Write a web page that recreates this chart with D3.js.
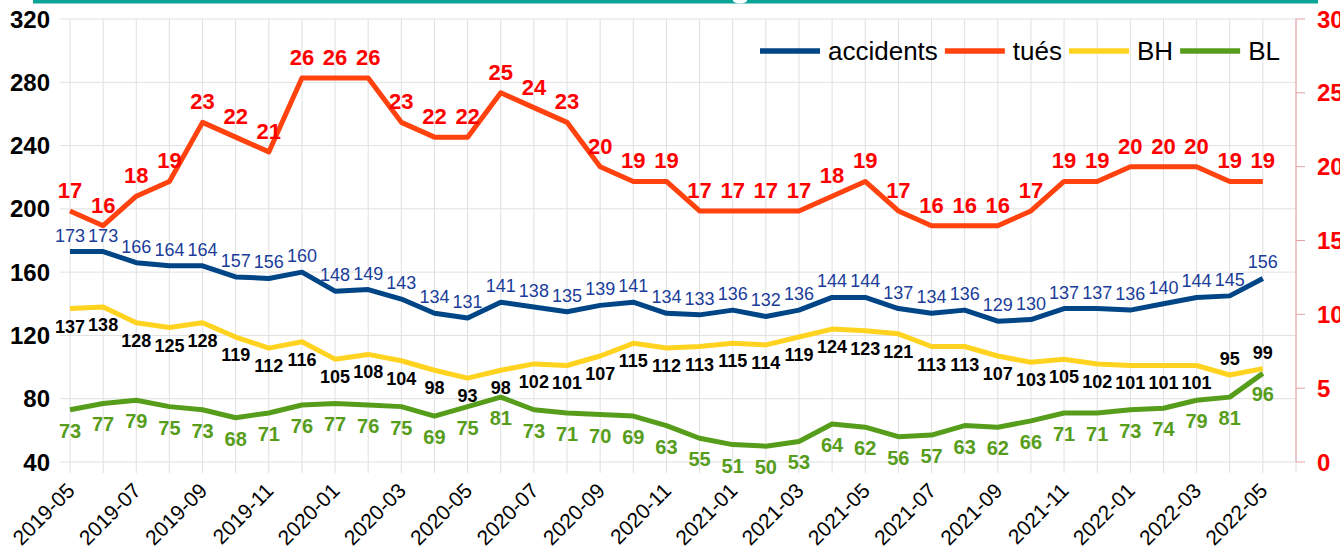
<!DOCTYPE html>
<html><head><meta charset="utf-8">
<script src="https://cdn.jsdelivr.net/npm/d3@7"></script>
<style>body{margin:0;background:#fff}svg{display:block}</style>
</head><body>
<svg id="c" width="1340" height="549"></svg>
<script>
const months = ["2019-05","2019-06","2019-07","2019-08","2019-09","2019-10","2019-11","2019-12","2020-01","2020-02","2020-03","2020-04","2020-05","2020-06","2020-07","2020-08","2020-09","2020-10","2020-11","2020-12","2021-01","2021-02","2021-03","2021-04","2021-05","2021-06","2021-07","2021-08","2021-09","2021-10","2021-11","2021-12","2022-01","2022-02","2022-03","2022-04","2022-05"];
const accidents = [173,173,166,164,164,157,156,160,148,149,143,134,131,141,138,135,139,141,134,133,136,132,136,144,144,137,134,136,129,130,137,137,136,140,144,145,156];
const tues = [17,16,18,19,23,22,21,26,26,26,23,22,22,25,24,23,20,19,19,17,17,17,17,18,19,17,16,16,16,17,19,19,20,20,20,19,19];
const BH = [137,138,128,125,128,119,112,116,105,108,104,98,93,98,102,101,107,115,112,113,115,114,119,124,123,121,113,113,107,103,105,102,101,101,101,95,99];
const BL = [73,77,79,75,73,68,71,76,77,76,75,69,75,81,73,71,70,69,63,55,51,50,53,64,62,56,57,63,62,66,71,71,73,74,79,81,96];
const leftTicks = [40,80,120,160,200,240,280,320];
const rightTicks = [0,5,10,15,20,25,30];
const seriesNames = ["accidents","tués","BH","BL"];
const colors = ["#004586","#ff420e","#ffd320","#579d1c"];

const svg = d3.select("#c");
const x = d3.scaleLinear().domain([0, months.length]).range([70, 1296]);
const yL = d3.scaleLinear().domain([40, 320]).range([462, 19]);
const yR = d3.scaleLinear().domain([0, 30]).range([462, 19]);
const F = "'Liberation Sans', Arial, sans-serif";

// top teal bar
svg.append("rect").attr("x",33).attr("y",0).attr("width",1285).attr("height",3.5).attr("fill","#0aa597");
svg.append("ellipse").attr("cx",740).attr("cy",0.5).attr("rx",7).attr("ry",3).attr("fill","#fff");

// vertical gridlines
const grid = svg.append("g");
d3.range(months.length + 1).forEach(i => {
  grid.append("line").attr("x1", x(i)).attr("x2", x(i)).attr("y1", yL(320)).attr("y2", 473)
    .attr("stroke", "#e0e0e0").attr("stroke-width", 1);
});
// horizontal gridlines
leftTicks.forEach(v => {
  grid.append("line").attr("x1", 60).attr("x2", x(months.length)).attr("y1", yL(v)).attr("y2", yL(v))
    .attr("stroke", "#e0e0e0").attr("stroke-width", 1);
});

// left axis labels
svg.append("g").selectAll("text").data(leftTicks).join("text")
  .attr("x", 50).attr("y", d => yL(d) + 8.5).attr("text-anchor", "end")
  .attr("font-family", F).attr("font-weight", "bold").attr("font-size", 24).attr("fill", "#000")
  .text(d => d);

// right axis
const xr = x(months.length);
svg.append("line").attr("x1", xr).attr("x2", xr).attr("y1", yR(30)).attr("y2", yR(0)).attr("stroke", "#e8a0a0").attr("stroke-width", 1);
rightTicks.forEach(v => {
  svg.append("line").attr("x1", xr).attr("x2", xr + 9).attr("y1", yR(v)).attr("y2", yR(v)).attr("stroke", "#e8a0a0");
});
svg.append("g").selectAll("text").data(rightTicks).join("text")
  .attr("x", xr + 21).attr("y", d => yR(d) + 8.5).attr("text-anchor", "start")
  .attr("font-family", F).attr("font-weight", "bold").attr("font-size", 24).attr("fill", "#ff0000")
  .text(d => d);

// x labels
svg.append("g").selectAll("text").data(months.filter((m, i) => i % 2 === 0)).join("text")
  .attr("transform", (d) => `translate(${x(months.indexOf(d)) + 6},${492}) rotate(-45)`)
  .attr("text-anchor", "end").attr("font-family", F).attr("font-size", 21).attr("fill", "#000")
  .text(d => d);

// lines
const lineL = d3.line().x((d, i) => x(i)).y(d => yL(d));
const lineR = d3.line().x((d, i) => x(i)).y(d => yR(d));
const draw = (data, gen, col) => svg.append("path").datum(data).attr("d", gen)
  .attr("fill", "none").attr("stroke", col).attr("stroke-width", 5).attr("stroke-linejoin", "round");
draw(BL, lineL, colors[3]);
draw(BH, lineL, colors[2]);
draw(accidents, lineL, colors[0]);
draw(tues, lineR, colors[1]);

// labels
const lab = (data, ys, dyFn, size, weight, col) => svg.append("g").selectAll("text").data(data).join("text")
  .attr("x", (d, i) => x(i)).attr("y", (d, i) => ys(d) + dyFn(i))
  .attr("text-anchor", "middle").attr("font-family", F).attr("font-size", size)
  .attr("font-weight", weight).attr("fill", col).text(d => d);
lab(accidents, yL, () => -10, 18, "normal", "#1a3d99");
lab(tues, yR, () => -13, 22, "bold", "#ff0000");
lab(BH, yL, i => i >= 35 ? -10 : 24, 18, "bold", "#000");
lab(BL, yL, () => 28, 20, "bold", colors[3]);

// legend
const leg = svg.append("g");
let lx = 760;
seriesNames.forEach((n, k) => {
  leg.append("line").attr("x1", lx).attr("x2", lx + 60).attr("y1", 51).attr("y2", 51)
    .attr("stroke", colors[k]).attr("stroke-width", 5.5);
  const t = leg.append("text").attr("x", lx + 68).attr("y", 60).attr("font-family", F)
    .attr("font-size", 26).attr("fill", "#000").text(n);
  lx = lx + 68 + t.node().getComputedTextLength() + 7;
});
</script>
</body></html>
